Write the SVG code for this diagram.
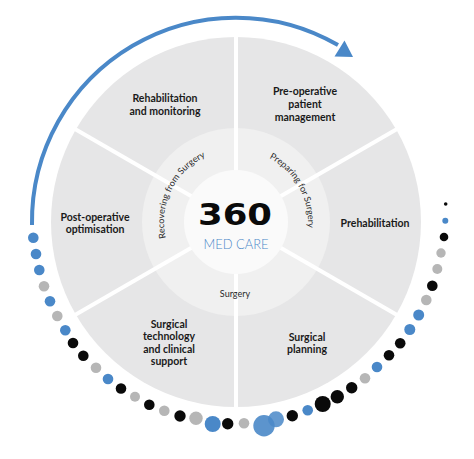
<svg xmlns="http://www.w3.org/2000/svg" width="474" height="459" viewBox="0 0 474 459">
<style>
.seg{fill:#e6e6e7}
.lbl{font-family:Lato,"Open Sans","Liberation Sans",sans-serif;font-weight:700;font-size:10.5px;fill:#1a1a1a;text-anchor:middle}
.phase{font-family:Lato,"Open Sans","Liberation Sans",sans-serif;font-size:9px;fill:#2a2a2a}
.div{stroke:#ffffff;stroke-width:4}
.b{fill:#4a88c8}
.g{fill:#b6b6b6}
.k{fill:#0a0a0a}
</style>
<defs>
<path id="arcL" d="M168.34,246.62 A72,72 0 0 1 213.75,153.52"/>
<path id="arcR" d="M254.64,152.45 A72,72 0 0 1 304.85,243.05"/>
</defs>
<rect width="474" height="459" fill="#ffffff"/>

<g id="preop">
<path class="seg" d="M236,222 L236,37 A185,185 0 0 1 396.2,129.5 Z"/>
<text class="lbl" x="305" y="95">Pre-operative</text>
<text class="lbl" x="305" y="108">patient</text>
<text class="lbl" x="305" y="121">management</text>
</g>
<g id="prehab">
<path class="seg" d="M236,222 L396.2,129.5 A185,185 0 0 1 396.2,314.5 Z"/>
<text class="lbl" x="375" y="227">Prehabilitation</text>
</g>
<g id="planning">
<path class="seg" d="M236,222 L396.2,314.5 A185,185 0 0 1 236,407 Z"/>
<text class="lbl" x="307" y="341">Surgical</text>
<text class="lbl" x="307" y="353">planning</text>
</g>
<g id="tech">
<path class="seg" d="M236,222 L236,407 A185,185 0 0 1 75.8,314.5 Z"/>
<text class="lbl" x="169" y="328">Surgical</text>
<text class="lbl" x="169" y="340">technology</text>
<text class="lbl" x="169" y="353">and clinical</text>
<text class="lbl" x="169" y="365">support</text>
</g>
<g id="postop">
<path class="seg" d="M236,222 L75.8,314.5 A185,185 0 0 1 75.8,129.5 Z"/>
<text class="lbl" x="95" y="221">Post-operative</text>
<text class="lbl" x="95" y="233">optimisation</text>
</g>
<g id="rehab">
<path class="seg" d="M236,222 L75.8,129.5 A185,185 0 0 1 236,37 Z"/>
<text class="lbl" x="165" y="102">Rehabilitation</text>
<text class="lbl" x="165" y="115">and monitoring</text>
</g>

<g id="phases">
<circle cx="236" cy="222" r="94" fill="#f0f0f0"/>
</g>
<g id="dividers">
<line class="div" x1="236" y1="222" x2="236" y2="34"/>
<line class="div" x1="236" y1="222" x2="236" y2="410"/>
<line class="div" x1="236" y1="222" x2="398.8" y2="128"/>
<line class="div" x1="236" y1="222" x2="398.8" y2="316"/>
<line class="div" x1="236" y1="222" x2="73.2" y2="128"/>
<line class="div" x1="236" y1="222" x2="73.2" y2="316"/>
</g>
<g id="phase-labels">
<text class="phase"><textPath href="#arcL" startOffset="50%" text-anchor="middle">Recovering from Surgery</textPath></text>
<text class="phase"><textPath href="#arcR" startOffset="50%" text-anchor="middle">Preparing for Surgery</textPath></text>
<text class="phase" x="235" y="297" text-anchor="middle">Surgery</text>
</g>

<g id="hub">
<circle cx="236" cy="222" r="52" fill="#fafafa"/>
<text x="235" y="225" font-family="'DejaVu Sans',Lato,sans-serif" font-weight="700" font-size="30" fill="#0a0a0a" text-anchor="middle" textLength="74" lengthAdjust="spacingAndGlyphs">360</text>
<text x="236" y="249" font-family="Lato,'Open Sans',sans-serif" font-weight="300" font-size="14" fill="#4a88c8" text-anchor="middle" textLength="65" lengthAdjust="spacingAndGlyphs">MED CARE</text>
</g>

<g id="connectors">
<path d="M32,225 A204,204 0 0 1 338,45" fill="none" stroke="#4a88c8" stroke-width="4"/>
<polygon points="353,57 334.5,56.4 344.5,40.6" fill="#4a88c8"/>
</g>

<g id="dots">
<circle class="b" cx="33.3" cy="237.7" r="5.3"/>
<circle class="b" cx="36" cy="254" r="5.3"/>
<circle class="b" cx="39.3" cy="270" r="5.3"/>
<circle class="g" cx="44" cy="286.3" r="5.3"/>
<circle class="b" cx="50" cy="301.3" r="5.3"/>
<circle class="g" cx="57.3" cy="316" r="5.3"/>
<circle class="b" cx="65.3" cy="330.3" r="5.3"/>
<circle class="k" cx="73" cy="343" r="5.3"/>
<circle class="k" cx="83.3" cy="355.7" r="5.3"/>
<circle class="g" cx="96" cy="367.7" r="5.3"/>
<circle class="b" cx="108" cy="379" r="5.3"/>
<circle class="k" cx="121" cy="388.5" r="5.3"/>
<circle class="g" cx="135" cy="396.7" r="5"/>
<circle class="k" cx="149.3" cy="404.7" r="5.3"/>
<circle class="g" cx="164.3" cy="410.7" r="5.3"/>
<circle class="k" cx="180" cy="416" r="5.7"/>
<circle class="g" cx="196" cy="418.3" r="6.7"/>
<circle class="b" cx="212.7" cy="424" r="8"/>
<circle class="k" cx="227.7" cy="423.7" r="5.7"/>
<circle class="g" cx="244" cy="423.3" r="5.3"/>
<circle class="b" cx="264" cy="425.7" r="10.7" fill-opacity="0.9"/>
<circle class="b" cx="276" cy="419.3" r="8" fill-opacity="0.85"/>
<circle class="k" cx="292.3" cy="415.7" r="5.7"/>
<circle class="b" cx="307.7" cy="410.3" r="5.3"/>
<circle class="k" cx="322.7" cy="404" r="8"/>
<circle class="k" cx="337.3" cy="396.7" r="6.7"/>
<circle class="k" cx="351.7" cy="387.7" r="5.7"/>
<circle class="g" cx="365" cy="378.3" r="5.3"/>
<circle class="b" cx="377" cy="367" r="5.3"/>
<circle class="k" cx="389" cy="355.3" r="5.3"/>
<circle class="k" cx="400.2" cy="343.2" r="5.3"/>
<circle class="b" cx="409.8" cy="329.5" r="5.5"/>
<circle class="b" cx="418.7" cy="315" r="5.5"/>
<circle class="g" cx="426.3" cy="300" r="5.3"/>
<circle class="k" cx="432.3" cy="285.7" r="5.3"/>
<circle class="g" cx="437.3" cy="269" r="5"/>
<circle class="g" cx="441" cy="253" r="4.7"/>
<circle class="k" cx="444" cy="237" r="4.3"/>
<circle class="b" cx="445.3" cy="220.7" r="3"/>
<circle class="k" cx="445.7" cy="204" r="1.8"/>
</g>
</svg>
